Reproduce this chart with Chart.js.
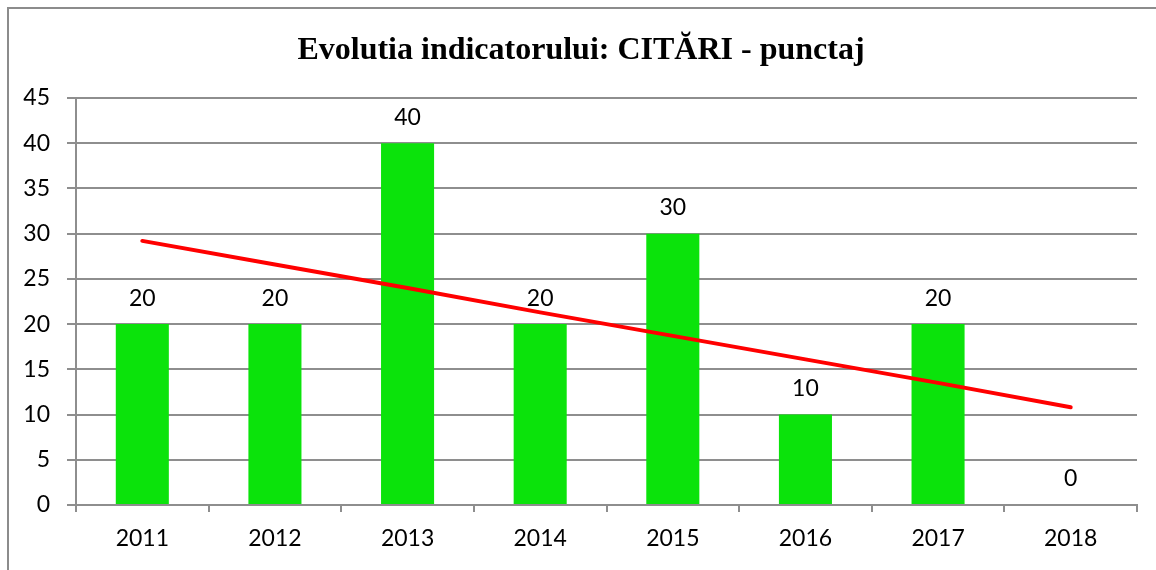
<!DOCTYPE html>
<html>
<head>
<meta charset="utf-8">
<script src="https://cdn.jsdelivr.net/npm/chart.js@4"></script>
<style>
html,body{margin:0;padding:0;background:#fff;}
canvas{display:block;}
</style>
</head>
<body>
<canvas id="c" width="1156" height="570"></canvas>
<script>
const titleText = 'Evolutia indicatorului: CITĂRI - punctaj';
const categories = ['2011','2012','2013','2014','2015','2016','2017','2018'];
const scores = [20, 20, 40, 20, 30, 10, 20, 0];
const trendValues = [29.2, 26.6, 24.0, 21.3, 18.7, 16.1, 13.5, 10.8];
const yTicks = [0, 5, 10, 15, 20, 25, 30, 35, 40, 45];

const gridColor = '#8e8e8e';
const tickFont = {family: 'Lato', size: 23};

const framePlugin = {
  id: 'frame',
  beforeDraw(chart) {
    const ctx = chart.ctx;
    ctx.save();
    ctx.fillStyle = '#fff';
    ctx.fillRect(0, 0, chart.width, chart.height);
    ctx.strokeStyle = '#8c8c8c';
    ctx.lineWidth = 2;
    ctx.strokeRect(8, 8, chart.width + 20, chart.height + 20);
    ctx.fillStyle = '#000';
    ctx.font = 'bold 32px "Liberation Serif"';
    ctx.textAlign = 'center';
    ctx.textBaseline = 'alphabetic';
    ctx.fillText(titleText, 581, 59);
    ctx.restore();
  },
  afterDatasetsDraw(chart) {
    const ctx = chart.ctx;
    const meta = chart.getDatasetMeta(0);
    ctx.save();
    ctx.fillStyle = '#000';
    ctx.font = '23px Lato';
    ctx.textAlign = 'center';
    ctx.textBaseline = 'middle';
    meta.data.forEach((bar, i) => {
      ctx.fillText(String(scores[i]), bar.x, bar.y - 26);
    });
    ctx.restore();
  }
};

new Chart(document.getElementById('c'), {
  data: {
    labels: categories,
    datasets: [
      {
        type: 'bar',
        data: scores,
        backgroundColor: '#0be30b',
        borderWidth: 0,
        barPercentage: 0.4,
        categoryPercentage: 1.0,
        order: 2
      },
      {
        type: 'line',
        data: trendValues,
        borderColor: '#ff0000',
        borderWidth: 4,
        pointRadius: 0,
        tension: 0,
        fill: false,
        borderCapStyle: 'round',
        order: 1
      }
    ]
  },
  options: {
    responsive: false,
    animation: false,
    layout: {padding: {top: 98, right: 19, left: 0, bottom: 0}},
    plugins: {legend: {display: false}, title: {display: false}, tooltip: {enabled: false}},
    scales: {
      x: {
        offset: true,
        afterFit(s) { s.height = 65; },
        grid: {
          offset: true,
          drawOnChartArea: false,
          drawTicks: true,
          tickLength: 7,
          color: gridColor,
          lineWidth: 2
        },
        border: {display: true, color: gridColor, width: 2},
        ticks: {font: tickFont, color: '#000', padding: 13, maxRotation: 0}
      },
      y: {
        min: 0,
        max: 45,
        afterFit(s) { s.width = 76; },
        afterBuildTicks(s) { s.ticks = yTicks.map(v => ({value: v})); },
        grid: {
          color: gridColor,
          lineWidth: 2,
          drawTicks: true,
          tickLength: 9
        },
        border: {display: true, color: gridColor, width: 2},
        ticks: {font: tickFont, color: '#000', padding: 17}
      }
    }
  },
  plugins: [framePlugin]
});
</script>
</body>
</html>
